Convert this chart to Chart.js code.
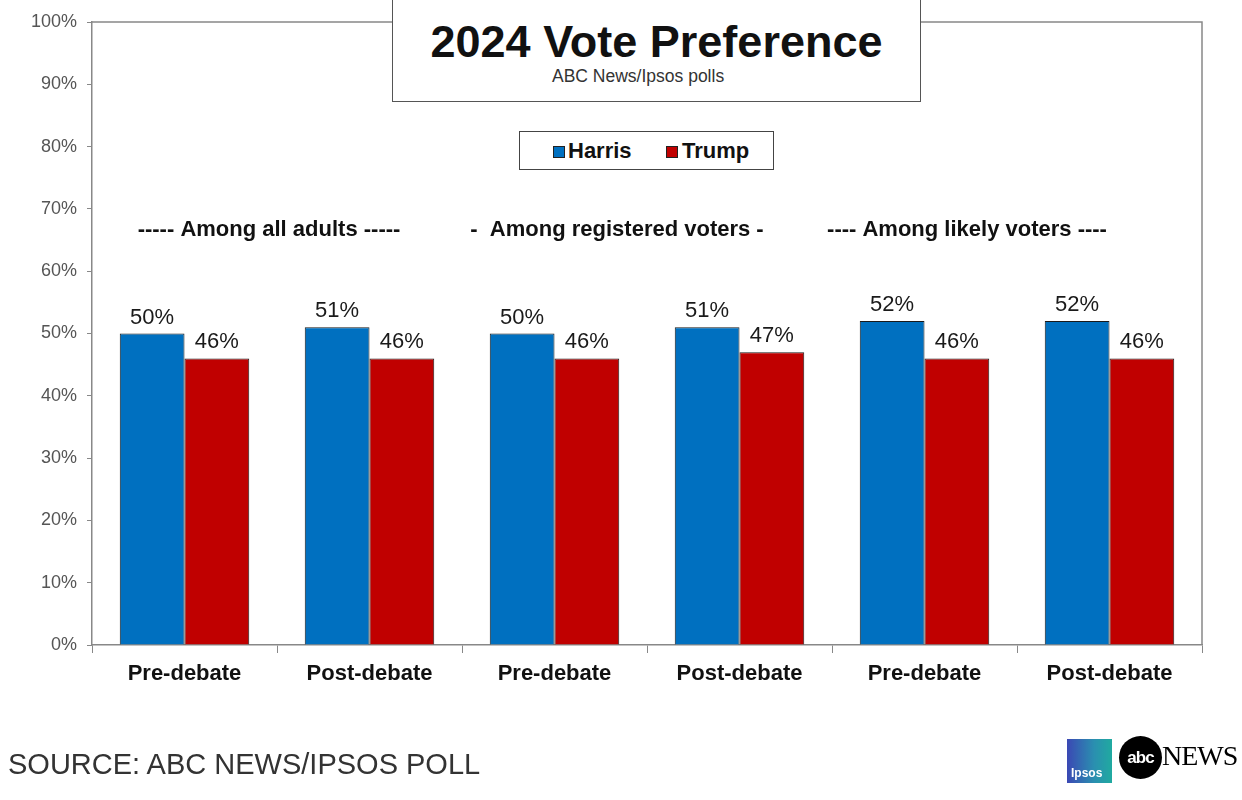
<!DOCTYPE html>
<html>
<head>
<meta charset="utf-8">
<script src="https://cdn.jsdelivr.net/npm/chart.js@4"></script>
<style>
  body { margin: 0; background: #fff; font-family: "Liberation Sans", Arial, sans-serif; }
  #wrap { position: relative; width: 1242px; height: 800px; overflow: hidden; }
  #titleBox { position: absolute; left: 392px; top: -1px; width: 529px; height: 103px; background: #fff; border: 1px solid #555; box-sizing: border-box; }
  #titleBox .t { position: absolute; left: 0; width: 100%; top: 19px; text-align: center; font-weight: bold; font-size: 45px; color: #111; line-height: 1; }
  #titleBox .s { position: absolute; left: 159px; top: 68px; font-size: 17.5px; color: #333; line-height: 1; }
  #legendBox { position: absolute; left: 519px; top: 131px; width: 255px; height: 39px; border: 1px solid #444; background: #fff; box-sizing: border-box; }
  .sw { position: absolute; top: 14px; width: 12px; height: 12px; border: 1px solid #222; box-sizing: border-box; }
  .lt { position: absolute; top: 8px; font-weight: bold; font-size: 22px; color: #111; line-height: 1; }
  #source { position: absolute; left: 8px; top: 750px; font-size: 29px; color: #333; line-height: 1; }
  #ipsos { position: absolute; left: 1067px; top: 739px; width: 45px; height: 44px; background: linear-gradient(90deg, #3b48b4, #2a8fb0 60%, #20aaa0); }
  #ipsos span { position: absolute; left: 4px; bottom: 3px; color: #fff; font-weight: bold; font-size: 12px; }
  #abc { position: absolute; left: 1119px; top: 736px; width: 43px; height: 43px; border-radius: 50%; background: #000; color: #fff; font-weight: bold; font-size: 17px; text-align: center; line-height: 43px; letter-spacing: -1px; }
  #news { position: absolute; left: 1162px; top: 742px; font-family: "Liberation Serif", "DejaVu Serif", serif; font-size: 28px; color: #000; line-height: 1; letter-spacing: -1px; }
</style>
</head>
<body>
<div id="wrap">
  <canvas id="voteChart" width="1242" height="800"></canvas>
  <div id="titleBox">
    <div class="t">2024 Vote Preference</div>
    <div class="s">ABC News/Ipsos polls</div>
  </div>
  <div id="legendBox">
    <div class="sw" style="left:33px;background:#0070C0"></div>
    <div class="lt" style="left:48px">Harris</div>
    <div class="sw" style="left:146px;background:#C00000"></div>
    <div class="lt" style="left:162px">Trump</div>
  </div>
  <div id="source">SOURCE: ABC NEWS/IPSOS POLL</div>
  <div id="ipsos"><span>Ipsos</span></div>
  <div id="abc">abc</div>
  <div id="news">NEWS</div>
</div>
<script>
// data
const categories = ['Pre-debate', 'Post-debate', 'Pre-debate', 'Post-debate', 'Pre-debate', 'Post-debate'];
const harris = [50, 51, 50, 51, 52, 52];
const trump = [46, 46, 46, 47, 46, 46];
const groupLabels = ['----- Among all adults -----', '-  Among registered voters -', '---- Among likely voters ----'];
const yTicks = [0, 10, 20, 30, 40, 50, 60, 70, 80, 90, 100];

// etiket kelompok + label nilai + bingkai atas/kanan
const extras = {
  id: 'extras',
  afterDraw(chart) {
    const c = chart.ctx;
    const a = chart.chartArea;
    c.save();
    c.strokeStyle = '#888';
    c.lineWidth = 1.5;
    c.beginPath();
    c.moveTo(a.left, a.top);
    c.lineTo(a.right, a.top);
    c.lineTo(a.right, a.bottom);
    c.stroke();

    c.font = '22px "Liberation Sans", Arial, sans-serif';
    c.fillStyle = '#1a1a1a';
    c.textAlign = 'center';
    c.textBaseline = 'bottom';
    chart.data.datasets.forEach((ds, i) => {
      chart.getDatasetMeta(i).data.forEach((bar, j) => {
        c.fillText(ds.data[j] + '%', bar.x, bar.y - 5);
      });
    });

    c.font = 'bold 22px "Liberation Sans", Arial, sans-serif';
    c.fillStyle = '#111';
    c.textBaseline = 'middle';
    const xs = chart.scales.x;
    const shift = [-8, -30, -50];
    groupLabels.forEach((t, k) => {
      const mid = (xs.getPixelForValue(k * 2) + xs.getPixelForValue(k * 2 + 1)) / 2;
      c.fillText(t, mid + shift[k], 230);
    });
    c.restore();
  }
};

const ctx = document.getElementById('voteChart').getContext('2d');
const voteChart = new Chart(ctx, {
  type: 'bar',
  data: {
    labels: categories,
    datasets: [{
      label: 'Harris',
      data: harris,
      backgroundColor: '#0070C0',
      borderColor: '#1a1a1a',
      borderWidth: 1
    }, {
      label: 'Trump',
      data: trump,
      backgroundColor: '#C00000',
      borderColor: '#1a1a1a',
      borderWidth: 1
    }]
  },
  options: {
    responsive: false,
    animation: false,
    devicePixelRatio: 1,
    categoryPercentage: 0.7,
    barPercentage: 1,
    layout: { padding: { top: 22, right: 40, left: 0, bottom: 0 } },
    plugins: { legend: { display: false }, tooltip: { enabled: false } },
    scales: {
      x: {
        afterFit(s) { s.height = 155; },
        grid: { offset: true, drawOnChartArea: false, tickLength: 8, tickColor: '#888' },
        border: { color: '#888', width: 1.5 },
        ticks: { color: '#111', padding: 8, font: { family: '"Liberation Sans", Arial, sans-serif', size: 22, weight: 'bold' } }
      },
      y: {
        min: 0,
        max: 100,
        afterFit(s) { s.width = 92; },
        afterBuildTicks(s) { s.ticks = yTicks.map(v => ({ value: v })); },
        grid: { drawOnChartArea: false, tickLength: 5, tickColor: '#888' },
        border: { color: '#888', width: 1.5 },
        ticks: {
          color: '#555',
          padding: 10,
          font: { family: '"Liberation Sans", Arial, sans-serif', size: 18 },
          callback: v => v + '%'
        }
      }
    }
  },
  plugins: [extras]
});
</script>
</body>
</html>
